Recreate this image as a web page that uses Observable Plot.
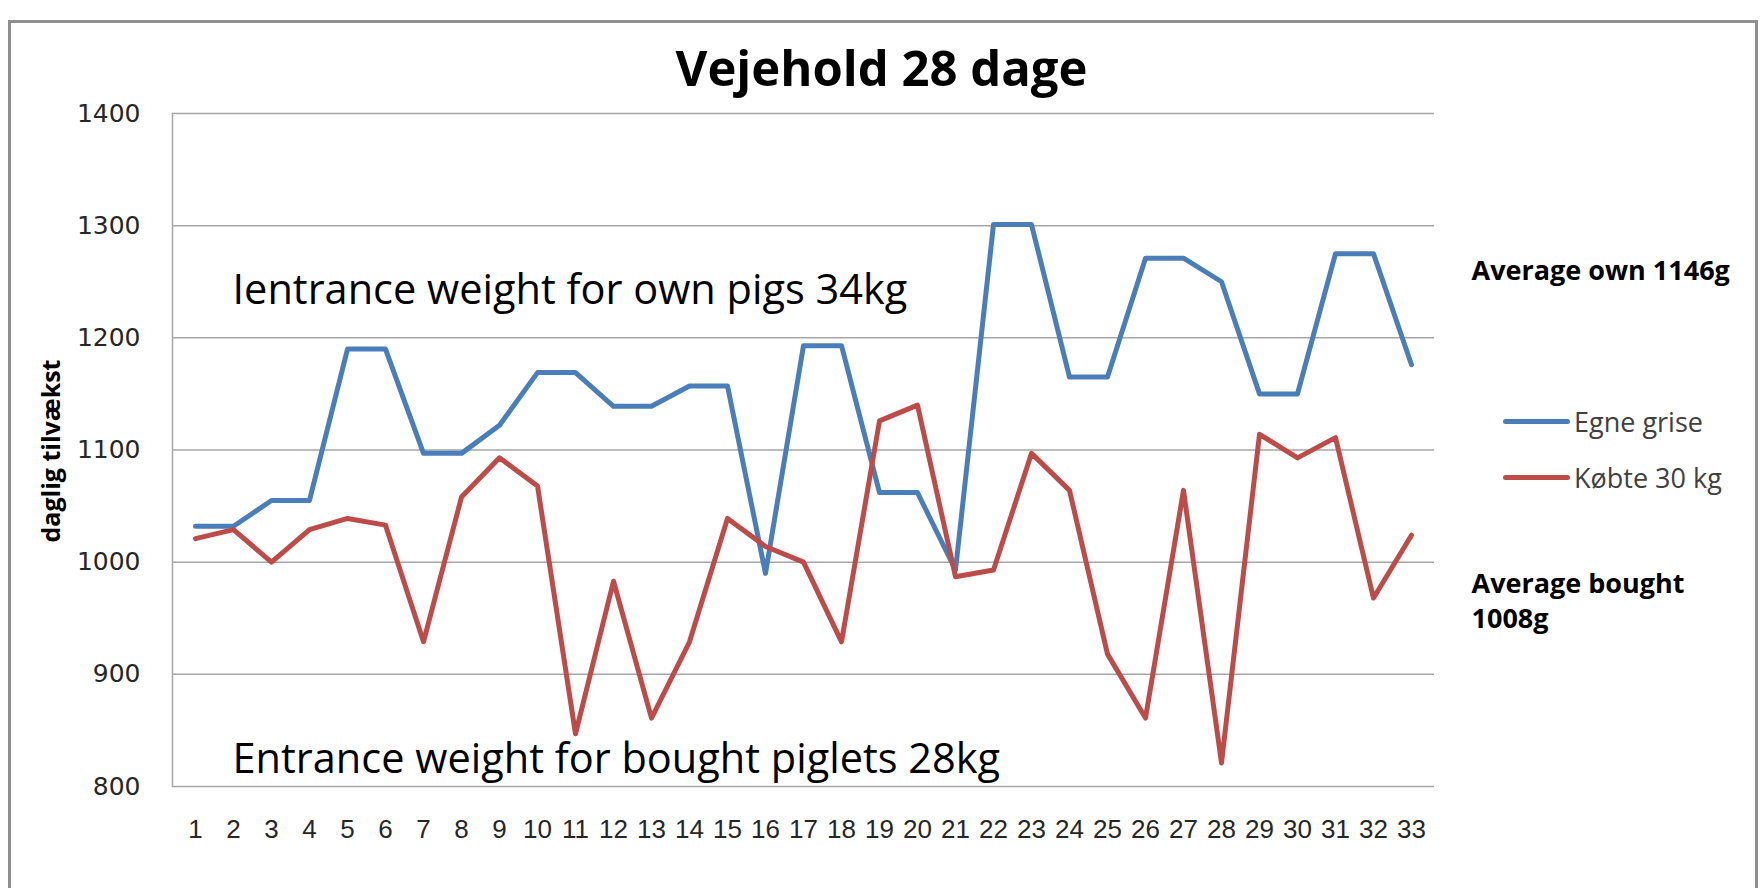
<!DOCTYPE html>
<html>
<head>
<meta charset="utf-8">
<script src="https://cdn.jsdelivr.net/npm/d3@7"></script>
<script src="https://cdn.jsdelivr.net/npm/@observablehq/plot@0.6"></script>
<style>
  body { margin: 0; background: #fff; }
  #wrap { position: relative; width: 1760px; height: 888px; overflow: hidden; background: #fff; }
  #border { position: absolute; left: 8px; top: 20px; width: 1750px; height: 900px; border: 3px solid #8f8f8f; box-sizing: border-box; pointer-events: none; }
  #chart { position: absolute; left: 0; top: 0; }
  .legend-row { position: absolute; left: 1503px; height: 27px; line-height: 27px; font-family: "Open Sans", sans-serif; font-size: 27px; color: #404040; white-space: nowrap; }
  .legend-row .sw { position: absolute; left: 0; top: 11px; width: 67px; height: 5px; border-radius: 3px; }
  .legend-row .lbl { position: absolute; left: 71px; top: 0; }
</style>
</head>
<body>
<div id="wrap">
  <div id="chart"></div>
  <div id="border"></div>
</div>
<script>
// ---- data ----
const days = ["1","2","3","4","5","6","7","8","9","10","11","12","13","14","15","16","17","18","19","20","21","22","23","24","25","26","27","28","29","30","31","32","33"];
const seriesNames = ["Egne grise", "Købte 30 kg"];
const seriesColors = ["#4a7ebb", "#be4b48"];
const egneGrise = [1032,1032,1055,1055,1190,1190,1097,1097,1122,1169,1169,1139,1139,1157,1157,990,1193,1193,1062,1062,993,1301,1301,1165,1165,1271,1271,1250,1150,1150,1275,1275,1176];
const kobte30 = [1021,1029,1000,1029,1039,1033,929,1058,1093,1068,847,983,861,929,1039,1014,1000,929,1126,1140,987,993,1097,1064,918,861,1064,821,1114,1093,1111,968,1024];
const yTicks = [800,900,1000,1100,1200,1300,1400];
const title = "Vejehold 28 dage";
const yLabel = "daglig tilvækst";
const noteOwn = "Ientrance weight for own pigs 34kg";
const noteBought = "Entrance weight for bought piglets 28kg";
const avgOwn = "Average own 1146g";
const avgBought1 = "Average bought";
const avgBought2 = "1008g";

const rows = [];
days.forEach((d, i) => {
  rows.push({day: d, value: egneGrise[i], series: seriesNames[0]});
  rows.push({day: d, value: kobte30[i], series: seriesNames[1]});
});

const gridColor = "#a6a6a6";
const sans = "'Open Sans', sans-serif";

const chart = Plot.plot({
  width: 1760,
  height: 888,
  marginLeft: 172,
  marginRight: 326,
  marginTop: 113,
  marginBottom: 102,
  style: {background: "transparent", overflow: "visible"},
  x: {type: "point", domain: days, padding: 0.5, label: null},
  y: {domain: [800, 1400], label: null},
  color: {domain: seriesNames, range: seriesColors},
  marks: [
    Plot.ruleY(yTicks, {stroke: gridColor, strokeWidth: 1.5}),
    Plot.frame({anchor: "left", stroke: gridColor, strokeWidth: 1.5}),
    Plot.axisY(yTicks, {tickSize: 0, tickPadding: 32, tickFormat: d => String(d), fontSize: 25, fontFamily: "'DejaVu Sans', Verdana, sans-serif", fill: "#262626", label: null}),
    Plot.axisX(days, {tickSize: 0, tickPadding: 33, fontSize: 26, fontFamily: "'Liberation Sans Narrow', 'Arial Narrow', 'Liberation Sans', sans-serif", fill: "#262626", label: null}),
    Plot.line(rows, {x: "day", y: "value", z: "series", stroke: "series", strokeWidth: 5, strokeLinejoin: "round", strokeLinecap: "round"}),
    // annotations inside the plot
    Plot.text([noteOwn], {x: () => days[0], y: () => 1242, text: d => d, textAnchor: "start", dx: 37, fontSize: 41.5, fontFamily: sans, fill: "#000"}),
    Plot.text([noteBought], {x: () => days[0], y: () => 823.5, text: d => d, textAnchor: "start", dx: 37, fontSize: 41.5, fontFamily: sans, fill: "#000"}),
    // title
    Plot.text([title], {frameAnchor: "top-left", text: d => d, textAnchor: "middle", lineAnchor: "bottom", dx: 709, dy: -28, fontSize: 49, fontWeight: "bold", fontFamily: sans, fill: "#000"}),
    // y label
    Plot.text([yLabel], {frameAnchor: "left", text: d => d, textAnchor: "middle", lineAnchor: "middle", rotate: -90, dx: -121, dy: 1, fontSize: 25, fontWeight: "bold", fontFamily: sans, fill: "#000"}),
    // averages
    Plot.text([avgOwn], {frameAnchor: "top-left", text: d => d, textAnchor: "start", lineAnchor: "bottom", dx: 1299, dy: 166, fontSize: 27, fontWeight: "bold", fontFamily: sans, fill: "#000"}),
    Plot.text([avgBought1], {frameAnchor: "top-left", text: d => d, textAnchor: "start", lineAnchor: "bottom", dx: 1299, dy: 479, fontSize: 27, fontWeight: "bold", fontFamily: sans, fill: "#000"}),
    Plot.text([avgBought2], {frameAnchor: "top-left", text: d => d, textAnchor: "start", lineAnchor: "bottom", dx: 1299, dy: 514, fontSize: 27, fontWeight: "bold", fontFamily: sans, fill: "#000"})
  ]
});
document.getElementById("chart").appendChild(chart);

// legend (HTML), built from the series arrays
const wrap = document.getElementById("wrap");
const legendTops = [408, 464];
seriesNames.forEach((name, i) => {
  const row = document.createElement("div");
  row.className = "legend-row";
  row.style.top = legendTops[i] + "px";
  const sw = document.createElement("span");
  sw.className = "sw";
  sw.style.background = seriesColors[i];
  const lbl = document.createElement("span");
  lbl.className = "lbl";
  lbl.textContent = name;
  row.appendChild(sw);
  row.appendChild(lbl);
  wrap.appendChild(row);
});
</script>
</body>
</html>
